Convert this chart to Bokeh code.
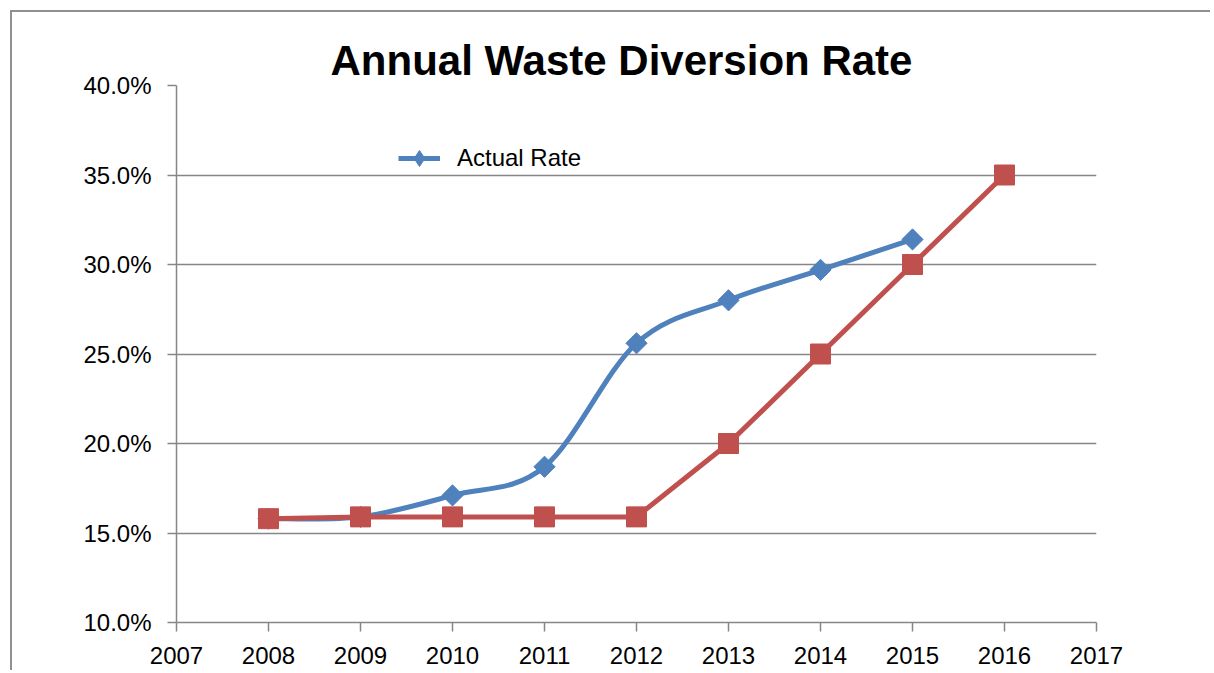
import math
from bokeh.plotting import figure
from bokeh.models import (FixedTicker, NumeralTickFormatter, Range1d, Legend,
                          LegendItem, ColumnDataSource, Title)
from bokeh.embed import file_html
from bokeh.resources import INLINE

# ---- data ----
actual_years = [2008, 2009, 2010, 2011, 2012, 2013, 2014, 2015]
actual_rate = [0.158, 0.159, 0.171, 0.187, 0.256, 0.280, 0.297, 0.314]
target_years = [2008, 2009, 2010, 2011, 2012, 2013, 2014, 2015, 2016]
target_rate = [0.158, 0.159, 0.159, 0.159, 0.159, 0.200, 0.250, 0.300, 0.350]
x_ticks = [2007, 2008, 2009, 2010, 2011, 2012, 2013, 2014, 2015, 2016, 2017]
y_ticks = [0.10, 0.15, 0.20, 0.25, 0.30, 0.35, 0.40]
title_text = "Annual Waste Diversion Rate"
legend_label = "Actual Rate"

BLUE = "#4F81BD"
RED = "#C0504D"
GRID = "#868686"
FONT = "Liberation Sans"

p = figure(width=1200, height=660, output_backend="svg", toolbar_location=None,
           x_range=Range1d(2007, 2017), y_range=Range1d(0.10, 0.40),
           min_border_left=164, min_border_right=116, min_border_top=73,
           min_border_bottom=50)
p.styles = {"margin-left": "10px", "margin-top": "10px",
            "border-left": "2px solid #909090", "border-top": "2px solid #909090"}
p.outline_line_color = None
p.background_fill_color = "white"
p.border_fill_color = "white"

p.add_layout(Title(text=title_text, align="left", offset=154, standoff=4,
                   text_font_size="42px", text_font=FONT, text_font_style="bold",
                   text_color="black"), "above")

# smooth curve (Catmull-Rom style bezier segments through the data points)
n = len(actual_years)
pts = list(zip(actual_years, actual_rate))
seg = dict(x0=[], y0=[], x1=[], y1=[], cx0=[], cy0=[], cx1=[], cy1=[])
for i in range(n - 1):
    pm = pts[i - 1] if i > 0 else pts[i]
    p0 = pts[i]
    p1 = pts[i + 1]
    p2 = pts[i + 2] if i + 2 < n else pts[i + 1]
    seg["x0"].append(p0[0]); seg["y0"].append(p0[1])
    seg["x1"].append(p1[0]); seg["y1"].append(p1[1])
    seg["cx0"].append(p0[0] + (p1[0] - pm[0]) / 6)
    seg["cy0"].append(p0[1] + (p1[1] - pm[1]) / 6)
    seg["cx1"].append(p1[0] - (p2[0] - p0[0]) / 6)
    seg["cy1"].append(p1[1] - (p2[1] - p0[1]) / 6)
p.bezier(x0="x0", y0="y0", x1="x1", y1="y1", cx0="cx0", cy0="cy0", cx1="cx1",
         cy1="cy1", source=ColumnDataSource(seg), line_color=BLUE,
         line_width=5, line_cap="round")
p.scatter(actual_years, actual_rate, marker="square", angle=math.pi / 4,
          size=15, fill_color=BLUE, line_color=BLUE)
leg_line = p.line([float("nan")], [float("nan")], line_color=BLUE, line_width=5)
leg_mark = p.scatter([float("nan")], [float("nan")], marker="diamond",
                     fill_color=BLUE, line_color=BLUE)

p.line(target_years, target_rate, line_color=RED, line_width=5, line_join="round")
p.scatter(target_years, target_rate, marker="square", size=20,
          fill_color=RED, line_color=RED)

legend = Legend(items=[LegendItem(label=legend_label, renderers=[leg_line, leg_mark])],
                location=(222, 444), border_line_color=None, background_fill_alpha=0,
                padding=0, margin=0, glyph_width=42, glyph_height=40,
                label_standoff=17, label_text_font_size="24px", label_text_font=FONT,
                label_text_color="black")
p.add_layout(legend)

for ax in (p.xaxis[0], p.yaxis[0]):
    ax.axis_line_color = GRID
    ax.axis_line_width = 1.5
    ax.major_tick_line_color = GRID
    ax.major_tick_line_width = 1.5
    ax.major_tick_out = 9
    ax.major_tick_in = 0
    ax.minor_tick_line_color = None
    ax.major_label_text_font_size = "24px"
    ax.major_label_text_font = FONT
    ax.major_label_text_color = "black"

p.xaxis[0].ticker = FixedTicker(ticks=x_ticks)
p.xaxis[0].major_label_standoff = 15
p.yaxis[0].ticker = FixedTicker(ticks=y_ticks)
p.yaxis[0].formatter = NumeralTickFormatter(format="0.0%")
p.yaxis[0].major_label_standoff = 16

p.xgrid.grid_line_color = None
p.ygrid.grid_line_color = GRID
p.ygrid.grid_line_width = 1.5
p.ygrid.ticker = FixedTicker(ticks=y_ticks)

open("out.html", "w").write(file_html(p, INLINE))
